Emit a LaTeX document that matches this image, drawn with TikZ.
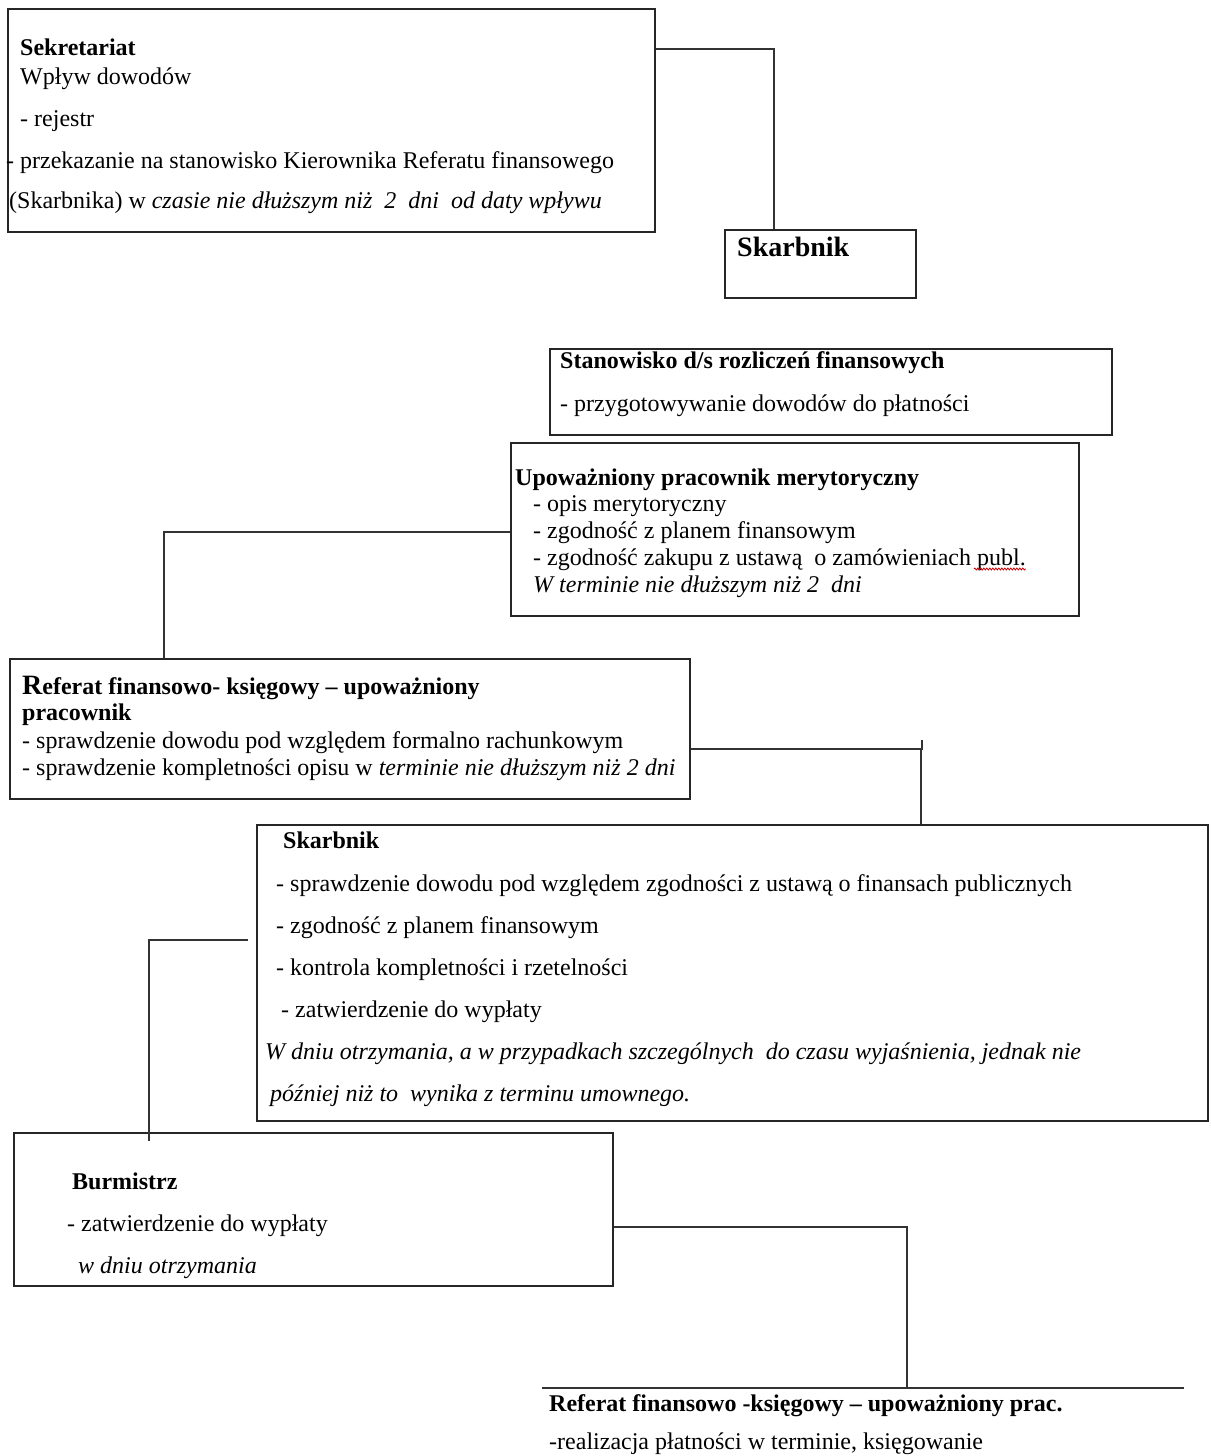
\documentclass[tikz,border=0pt]{standalone}
\usepackage{fontspec}
\setmainfont{Liberation Serif}
\usetikzlibrary{calc,decorations.pathmorphing}
\begin{document}
\begin{tikzpicture}[x=1pt,y=-1pt,
  box/.style={draw=black!85, line width=1.6pt, inner sep=0, fill=none},
  conn/.style={draw=black!80, line width=1.7pt},
  txt/.style={anchor=west, inner sep=0, yshift=-2.5pt, text height=16pt, text depth=5pt, font=\fontsize{24}{28}\selectfont},
  hd/.style={txt, font=\fontsize{24}{28}\selectfont\bfseries},
  it/.style={txt, font=\fontsize{24}{28}\selectfont\itshape}]
\useasboundingbox (0,0) rectangle (1210,1456);
\fill[white] (0,0) rectangle (1210,1456);

% boxes
\node[box, minimum width=647pt, minimum height=223pt] (sek) at (331.5,120.5) {};
\node[box, minimum width=191pt, minimum height=68pt] (sk1) at (820.5,264) {};
\node[box, minimum width=562pt, minimum height=86pt] (sta) at (831,392) {};
\node[box, minimum width=568pt, minimum height=173pt] (upo) at (795,529.5) {};
\node[box, minimum width=680pt, minimum height=140pt] (ref) at (350,729) {};
\node[box, minimum width=951pt, minimum height=296pt] (sk2) at (732.5,973) {};
\node[box, minimum width=599pt, minimum height=153pt] (bur) at (313.5,1209.5) {};

% Sekretariat
\node[hd] (t11) at (20,47) {Sekretariat};
\node[txt] (t12) at (20,76) {Wpływ dowodów};
\node[txt] (t13) at (20,118) {- rejestr};
\node[txt] (t14) at (6,160) {- przekazanie na stanowisko Kierownika Referatu finansowego};
\node[txt] (t15) at (9,200) {(Skarbnika) w \textit{czasie nie dłuższym niż\ \ 2\ \ dni\ \ od daty wpływu}};

% Skarbnik small
\node[txt, font=\fontsize{28}{32}\selectfont\bfseries] (t21) at (737,248) {Skarbnik};

% Stanowisko
\node[hd] (t31) at (560,360) {Stanowisko d/s rozliczeń finansowych};
\node[txt] (t32) at (560,403) {- przygotowywanie dowodów do płatności};

% Upowazniony
\node[hd] (t41) at (515,477) {Upoważniony pracownik merytoryczny};
\node[txt] (t42) at (533,503) {- opis merytoryczny};
\node[txt] (t43) at (533,530) {- zgodność z planem finansowym};
\node[txt] (t44) at (533,557) {- zgodność zakupu z ustawą\ \ o zamówieniach publ.};
\node[it] (t45) at (533,584) {W terminie nie dłuższym niż 2\ \ dni};
\draw[red!80!black, line width=0.8pt, decorate, decoration={snake, amplitude=1pt, segment length=3pt}]
  ($(t44.base east)+(-52,4)$) -- ($(t44.base east)+(0,4)$);

% Referat
\node[hd] (t51) at (22,686) {{\fontsize{28}{32}\selectfont R}eferat finansowo- księgowy – upoważniony};
\node[hd] (t52) at (22,712) {pracownik};
\node[txt] (t53) at (22,740) {- sprawdzenie dowodu pod względem formalno rachunkowym};
\node[txt] (t54) at (22,767) {- sprawdzenie kompletności opisu w \textit{terminie nie dłuższym niż 2 dni}};

% Skarbnik big
\node[hd] (t61) at (283,840) {Skarbnik};
\node[txt] (t62) at (276,883) {- sprawdzenie dowodu pod względem zgodności z ustawą o finansach publicznych};
\node[txt] (t63) at (276,925) {- zgodność z planem finansowym};
\node[txt] (t64) at (276,967) {- kontrola kompletności i rzetelności};
\node[txt] (t65) at (281,1009) {- zatwierdzenie do wypłaty};
\node[it] (t66) at (265,1051) {W dniu otrzymania, a w przypadkach szczególnych\ \ do czasu wyjaśnienia, jednak nie};
\node[it] (t67) at (270,1093) {później niż to\ \ wynika z terminu umownego.};

% Burmistrz
\node[hd] (t71) at (72,1181) {Burmistrz};
\node[txt] (t72) at (67,1223) {- zatwierdzenie do wypłaty};
\node[it] (t73) at (78,1265) {w dniu otrzymania};

% Last (open box)
\coordinate (lastL) at (542,1388);
\coordinate (lastR) at (1184,1388);
\node[hd] (t81) at (549,1403) {Referat finansowo -księgowy – upoważniony prac.};
\node[txt] (t82) at (549,1441) {-realizacja płatności w terminie, księgowanie};
\draw[conn] (lastL) -- (lastR);

% connectors
\draw[conn] (sek.north east) ++(0,41) -| ($(sk1.north west)+(50,0)$);
\draw[conn] (upo.north west) ++(0,90) -| ($(ref.north west)+(155,0)$);
\draw[conn] (ref.north east) ++(0,91) -| ($(sk2.north west)+(665,0)$);
\coordinate (stub) at (922,740);
\draw[conn] (stub) -- (922,750);
\draw[conn] ($(sk2.north west)+(-8,116)$) -| ($(bur.north west)+(136,9)$);
\draw[conn] (bur.north east) ++(0,95) -| ($(lastL)+(365,0)$);
\end{tikzpicture}
\end{document}
